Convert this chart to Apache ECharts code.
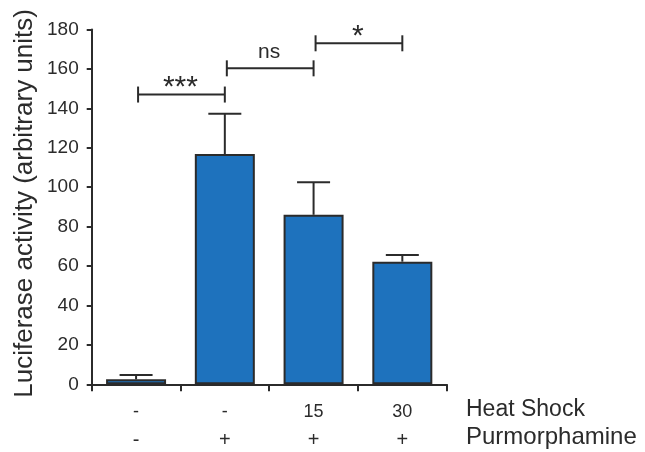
<!DOCTYPE html>
<html>
<head>
<meta charset="utf-8">
<script src="https://cdn.jsdelivr.net/npm/echarts@6/dist/echarts.min.js"></script>
<style>
  html, body { margin: 0; padding: 0; background: #fff; }
  #chart { width: 645px; height: 452px; }
</style>
</head>
<body>
<div id="chart"></div>
<script>
// Treatment groups
const heatShock = ['-', '-', '15', '30'];
const purmorphamine = ['-', '+', '+', '+'];
// Mean luciferase activity and upper error (SD)
const activity = [2.5, 116.8, 86, 62.2];
const errorUp = [2.2, 20.5, 16.5, 3.4];
// Significance brackets: [from group, to group, height, label]
const brackets = [
  [0, 1, 147, '***'],
  [1, 2, 160.3, 'ns'],
  [2, 3, 173, '*']
];
const yTicks = { min: 0, max: 180, step: 20 };

const FONT = '"Liberation Sans", Arial, Helvetica, sans-serif';
const INK = '#2b2b2b';

const chart = echarts.init(document.getElementById('chart'), null, { renderer: 'canvas' });

const option = {
  animation: false,
  backgroundColor: '#ffffff',
  grid: { left: 91.7, right: 198.3, top: 29.5, bottom: 67.7, containLabel: false },
  xAxis: {
    type: 'category',
    data: heatShock.map((h, i) => i),
    axisLine: { show: true, lineStyle: { color: INK, width: 2 } },
    axisTick: { show: true, length: 7, lineStyle: { color: INK, width: 2 } },
    axisLabel: {
      margin: 13,
      formatter: (v, i) => '{a|' + heatShock[i] + '}\n{b|' + purmorphamine[i] + '}',
      rich: {
        a: { fontSize: 18, lineHeight: 29, color: INK, fontFamily: FONT },
        b: { fontSize: 20, lineHeight: 29, color: INK, fontFamily: FONT }
      }
    },
    splitLine: { show: false }
  },
  yAxis: {
    type: 'value',
    min: yTicks.min,
    max: yTicks.max,
    interval: yTicks.step,
    axisLine: { show: true, lineStyle: { color: INK, width: 2 } },
    axisTick: { show: true, length: 5, lineStyle: { color: INK, width: 2 } },
    axisLabel: { fontSize: 19, color: INK, fontFamily: FONT, margin: 13 },
    splitLine: { show: false }
  },
  graphic: [
    {
      type: 'text', x: 25, y: 203.4, rotation: Math.PI / 2,
      style: {
        text: 'Luciferase activity (arbitrary units)',
        font: '26px ' + FONT, fill: INK, align: 'center', verticalAlign: 'middle'
      }
    },
    {
      type: 'text', x: 466, y: 409.5,
      style: { text: 'Heat Shock', font: '23px ' + FONT, fill: INK, align: 'left', verticalAlign: 'middle' }
    },
    {
      type: 'text', x: 466, y: 437.5,
      style: { text: 'Purmorphamine', font: '24px ' + FONT, fill: INK, align: 'left', verticalAlign: 'middle' }
    }
  ],
  series: [
    {
      type: 'bar',
      data: activity,
      barWidth: 60,
      itemStyle: { color: '#1e72bd', borderColor: INK, borderWidth: 2 },
      z: 2
    },
    {
      type: 'custom',
      data: activity.map((v, i) => [i, v, v + errorUp[i]]),
      encode: { x: 0, y: [1, 2] },
      z: 1,
      renderItem: (params, api) => {
        const base = api.coord([api.value(0), api.value(1)]);
        const top = api.coord([api.value(0), api.value(2)]);
        const half = 16.5;
        const style = { stroke: INK, lineWidth: 2 };
        return {
          type: 'group',
          children: [
            { type: 'line', shape: { x1: top[0], y1: base[1], x2: top[0], y2: top[1] }, style },
            { type: 'line', shape: { x1: top[0] - half, y1: top[1], x2: top[0] + half, y2: top[1] }, style }
          ]
        };
      }
    },
    {
      type: 'custom',
      data: brackets.map(b => [b[0], b[1], b[2]]),
      encode: { x: [0, 1], y: 2 },
      z: 3,
      renderItem: (params, api) => {
        const b = brackets[params.dataIndex];
        const p1 = api.coord([api.value(0), api.value(2)]);
        const p2 = api.coord([api.value(1), api.value(2)]);
        const h = 8;
        const style = { stroke: INK, lineWidth: 2 };
        const isStar = b[3].indexOf('*') === 0;
        return {
          type: 'group',
          children: [
            { type: 'line', shape: { x1: p1[0] + 2, y1: p1[1], x2: p2[0], y2: p2[1] }, style },
            { type: 'line', shape: { x1: p1[0] + 2, y1: p1[1] - h, x2: p1[0] + 2, y2: p1[1] + h }, style },
            { type: 'line', shape: { x1: p2[0], y1: p2[1] - h, x2: p2[0], y2: p2[1] + h }, style },
            {
              type: 'text',
              x: (p1[0] + p2[0]) / 2,
              y: p1[1] - (isStar ? 7 : 16),
              style: {
                text: b[3],
                font: (isStar ? '30px ' : '21px ') + FONT,
                fill: INK,
                align: 'center',
                verticalAlign: 'middle'
              }
            }
          ]
        };
      }
    }
  ]
};

chart.setOption(option);
</script>
</body>
</html>
